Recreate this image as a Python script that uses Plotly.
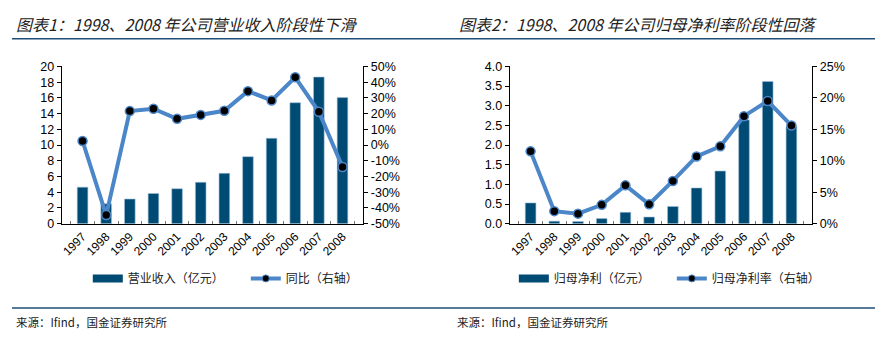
import plotly.graph_objects as go

years = ["1997", "1998", "1999", "2000", "2001", "2002", "2003", "2004", "2005", "2006", "2007", "2008"]
revenue = [4.65, 2.53, 3.14, 3.84, 4.45, 5.27, 6.41, 8.53, 10.86, 15.39, 18.65, 16.04]
revenue_yoy = [2.6, -44.5, 21.6, 23.1, 16.7, 19.2, 21.8, 34.3, 28.4, 43.1, 21.2, -13.9]
net_profit = [0.53, 0.065, 0.057, 0.13, 0.29, 0.17, 0.44, 0.91, 1.34, 2.64, 3.62, 2.47]
net_margin = [11.5, 2.0, 1.6, 3.0, 6.1, 3.1, 6.8, 10.7, 12.3, 17.1, 19.5, 15.6]

yoy_tickvals = [-50, -40, -30, -20, -10, 0, 10, 20, 30, 40, 50]
yoy_ticktext = ["-50%", "-40%", "-30%", "-20%", "-10%", "0%", "10%", "20%", "30%", "40%", "50%"]

title1 = "图表1：1998、2008 年公司营业收入阶段性下滑"
title2 = "图表2：1998、2008 年公司归母净利率阶段性回落"
source = "来源：Ifind，国金证券研究所"
bar_name1, line_name1 = "营业收入（亿元）", "同比（右轴）"
bar_name2, line_name2 = "归母净利（亿元）", "归母净利率（右轴）"

W, H = 884, 341
BAR = "#004B73"
LINE = "#4A86C8"
TICKFONT = dict(family="Liberation Sans, Arial", size=12.5, color="#000")
XFONT = dict(family="Liberation Sans, Arial", size=12, color="#000")
LEGFONT = dict(family="Noto Sans CJK SC", size=12, color="#222")

def px_x(v):
    return v / W

def px_y(v):
    return 1 - v / H

fig = go.Figure()

# Chart 1
fig.add_trace(go.Bar(x=years, y=revenue, marker=dict(color=BAR, line=dict(color="#9fc0da", width=0.6)),
                     xaxis="x", yaxis="y", showlegend=False))
fig.add_trace(go.Scatter(x=years, y=revenue_yoy, mode="lines+markers",
                         line=dict(color=LINE, width=4),
                         marker=dict(color="#000", size=9, line=dict(color=LINE, width=1.5)),
                         xaxis="x", yaxis="y2", showlegend=False))
fig.add_trace(go.Scatter(x=[None], y=[None], mode="lines", name=bar_name1,
                         line=dict(color=BAR, width=8), xaxis="x", yaxis="y", legend="legend"))
fig.add_trace(go.Scatter(x=[None], y=[None], mode="lines+markers", name=line_name1,
                         line=dict(color=LINE, width=4),
                         marker=dict(color="#000", size=7, line=dict(color=LINE, width=1)),
                         xaxis="x", yaxis="y2", legend="legend"))

# Chart 2
fig.add_trace(go.Bar(x=years, y=net_profit, marker=dict(color=BAR, line=dict(color="#9fc0da", width=0.6)),
                     xaxis="x2", yaxis="y3", showlegend=False))
fig.add_trace(go.Scatter(x=years, y=net_margin, mode="lines+markers",
                         line=dict(color=LINE, width=4),
                         marker=dict(color="#000", size=9, line=dict(color=LINE, width=1.5)),
                         xaxis="x2", yaxis="y4", showlegend=False))
fig.add_trace(go.Scatter(x=[None], y=[None], mode="lines", name=bar_name2,
                         line=dict(color=BAR, width=8), xaxis="x2", yaxis="y3", legend="legend2"))
fig.add_trace(go.Scatter(x=[None], y=[None], mode="lines+markers", name=line_name2,
                         line=dict(color=LINE, width=4),
                         marker=dict(color="#000", size=7, line=dict(color=LINE, width=1)),
                         xaxis="x2", yaxis="y4", legend="legend2"))

ydom = [px_y(226), px_y(62)]
xaxis_common = dict(showline=True, linecolor="#000", linewidth=1.2, showgrid=False, zeroline=False,
                    tickangle=-45, tickfont=XFONT, ticks="inside", ticklen=3, tickcolor="#777",
                    tickson="boundaries", fixedrange=True)
yaxis_common = dict(showline=True, linecolor="#000", linewidth=1.2, showgrid=False, zeroline=False,
                    tickfont=TICKFONT, ticks="outside", ticklen=4, tickcolor="#000", fixedrange=True)

legend_common = dict(orientation="h", xanchor="left", yanchor="middle", font=LEGFONT,
                     bgcolor="rgba(0,0,0,0)", itemwidth=30, entrywidth=113, entrywidthmode="pixels")

fig.update_layout(
    width=W, height=H,
    margin=dict(l=0, r=0, t=0, b=0),
    paper_bgcolor="#fff", plot_bgcolor="#fff",
    bargap=0.55,
    xaxis=dict(domain=[px_x(60), px_x(362)], anchor="y", **xaxis_common),
    yaxis=dict(domain=ydom, anchor="x", range=[0, 20], dtick=2, **yaxis_common),
    yaxis2=dict(overlaying="y", side="right", anchor="x", range=[-50, 50],
                tickvals=yoy_tickvals, ticktext=yoy_ticktext, **yaxis_common),
    xaxis2=dict(domain=[px_x(509), px_x(812)], anchor="y3", **xaxis_common),
    yaxis3=dict(domain=ydom, anchor="x2", range=[0, 4], dtick=0.5, tickformat=".1f", **yaxis_common),
    yaxis4=dict(overlaying="y3", side="right", anchor="x2", range=[0, 25], dtick=5,
                ticksuffix="%", **yaxis_common),
    legend=dict(x=px_x(86), y=px_y(283), **legend_common),
    legend2=dict(x=px_x(513), y=px_y(283), **legend_common),
    showlegend=True,
)

shapes = [
    dict(type="line", xref="paper", yref="paper", x0=px_x(10), x1=px_x(875), y0=px_y(33), y1=px_y(33),
         line=dict(color="#1F4E79", width=1.5)),
    dict(type="line", xref="paper", yref="paper", x0=px_x(10), x1=px_x(875), y0=px_y(314), y1=px_y(314),
         line=dict(color="#1F4E79", width=1.5)),
]
fig.update_layout(shapes=shapes)

TITLEFONT = dict(family="Noto Sans CJK SC", size=16, color="#222", style="italic")
SRCFONT = dict(family="Noto Sans CJK SC", size=11.5, color="#222")
annotations = [
    dict(text=title1, xref="paper", yref="paper", x=px_x(12), y=px_y(18), xanchor="left", yanchor="middle",
         showarrow=False, font=TITLEFONT),
    dict(text=title2, xref="paper", yref="paper", x=px_x(456), y=px_y(18), xanchor="left", yanchor="middle",
         showarrow=False, font=TITLEFONT),
    dict(text=source, xref="paper", yref="paper", x=px_x(12), y=px_y(329), xanchor="left", yanchor="middle",
         showarrow=False, font=SRCFONT),
    dict(text=source, xref="paper", yref="paper", x=px_x(454), y=px_y(329), xanchor="left", yanchor="middle",
         showarrow=False, font=SRCFONT),
]
fig.update_layout(annotations=annotations)

fig.write_html("out.html")
